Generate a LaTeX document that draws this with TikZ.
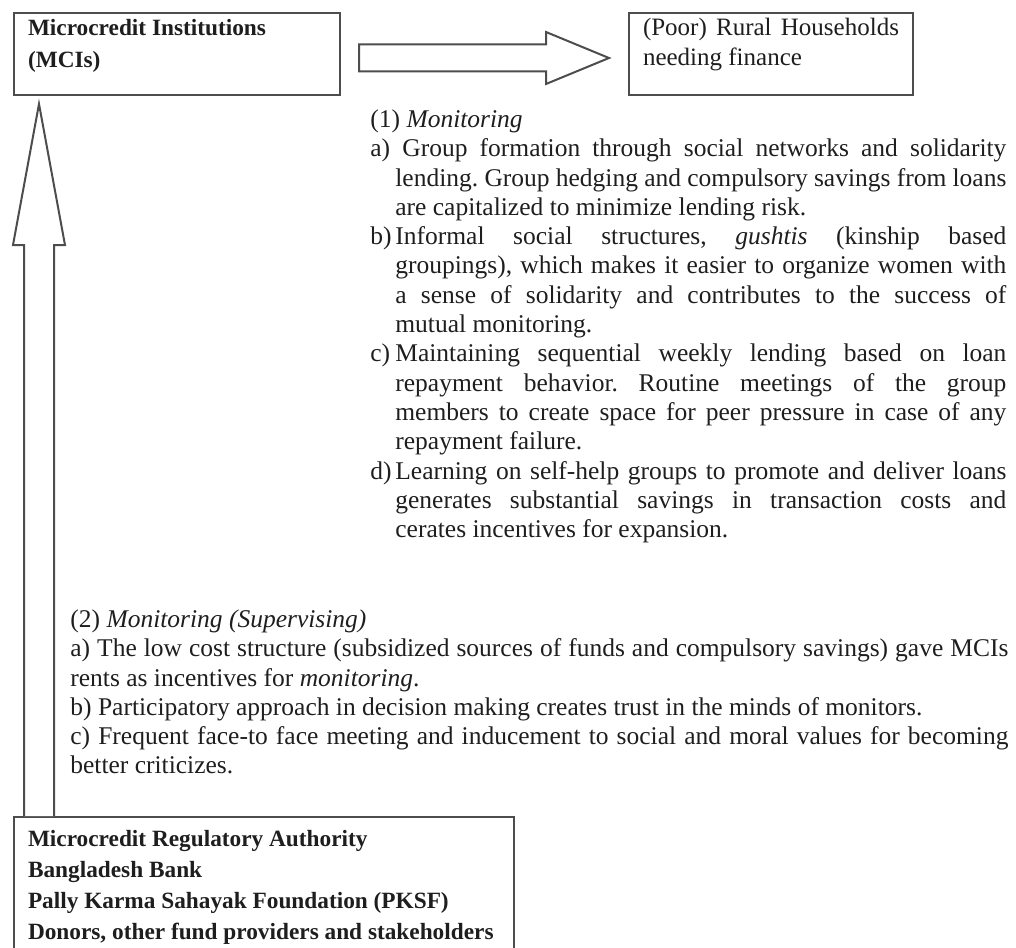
\documentclass[tikz,border=0pt]{standalone}
\usepackage{fontspec}
\setmainfont{Liberation Serif}
\usetikzlibrary{positioning,calc}
\definecolor{InkDark}{HTML}{1E1E1E}
\definecolor{LineGray}{HTML}{4D4D4D}
\frenchspacing
\newcommand{\cardtext}[4]{\parbox[t][#2][t]{#1}{\rule{0pt}{#3}#4}}
\newcommand{\hangitem}[1]{\par\hangindent=12.5pt\hangafter=1\makebox[12.5pt][l]{#1}}
\tikzset{
  card/.style={draw=LineGray, line width=1pt, fill=white, text=InkDark, inner xsep=7pt, inner ysep=0pt, anchor=north west},
  cardbold/.style={card, font=\fontsize{11.65}{16}\selectfont\bfseries},
  bodytext/.style={inner sep=0pt, anchor=north west, text=InkDark, font=\fontsize{12.75}{14.65}\selectfont},
  blockarrow/.style={draw=LineGray, line width=1pt, fill=white, line join=miter}
}
\begin{document}
\begin{tikzpicture}[x=0.5pt, y=-0.5pt]
  \useasboundingbox (0,0) rectangle (1016,947);
  \clip (0,0) rectangle (1016,947);
  % Boxes
  \node[cardbold] (mci) at (13,12)
    {\cardtext{149pt}{41pt}{11.5pt}{Microcredit Institutions\\(MCIs)}};
  \node[card, font=\fontsize{12.5}{15}\selectfont, right=143.5pt of mci] (hh)
    {\cardtext{128pt}{41pt}{11.5pt}{(Poor) Rural Households\linebreak needing finance}};
  \node[card, font=\fontsize{11.65}{15.5}\selectfont\bfseries, below=360pt of mci.south west, anchor=north west] (reg)
    {\cardtext{236pt}{90pt}{14.5pt}{Microcredit Regulatory Authority\\Bangladesh Bank\\Pally Karma Sahayak Foundation (PKSF)\\Donors, other fund providers and stakeholders}};

  % Text blocks
  \node[bodytext] (mon) at (370,107) {\parbox[t]{318pt}{\rule{0pt}{10pt}(1) \textit{Monitoring}
    \hangitem{a)}\hspace{3.5pt}Group formation through social networks and solidarity\linebreak lending. Group hedging and compulsory savings from loans\linebreak are capitalized to minimize lending risk.
    \hangitem{b)}Informal social structures, \textit{gushtis} (kinship based\linebreak groupings), which makes it easier to organize women with\linebreak a sense of solidarity and contributes to the success of\linebreak mutual monitoring.
    \hangitem{c)}Maintaining sequential weekly lending based on loan\linebreak repayment behavior. Routine meetings of the group\linebreak members to create space for peer pressure in case of any\linebreak repayment failure.
    \hangitem{d)}Learning on self-help groups to promote and deliver loans\linebreak generates substantial savings in transaction costs and\linebreak cerates incentives for expansion.}};

  \node[bodytext] (sup) at (70,607) {\parbox[t]{469pt}{\rule{0pt}{10pt}(2) \textit{Monitoring (Supervising)}\par
    a) The low cost structure (subsidized sources of funds and compulsory savings) gave MCIs\linebreak rents as incentives for \textit{monitoring}.\par
    b) Participatory approach in decision making creates trust in the minds of monitors.\par
    c) Frequent face-to face meeting and inducement to social and moral values for becoming\linebreak better criticizes.}};

  % Block arrows
  \coordinate (ra) at ($(mci.east)+(18,4)$);
  \coordinate (rb) at ($(hh.west)+(-19,4)$);
  \draw[blockarrow] ($(ra)+(0,-13.5)$) -- ($(rb)+(-63,-13.5)$) -- ($(rb)+(-63,-26)$) -- (rb)
    -- ($(rb)+(-63,26)$) -- ($(rb)+(-63,13.5)$) -- ($(ra)+(0,13.5)$) -- cycle;

  \coordinate (ua) at ($(reg.north west)+(26,0)$);
  \coordinate (ut) at ($(mci.south west)+(26,8)$);
  \draw[blockarrow] ($(ua)+(-15,0)$) -- ($(ut)+(-15,141)$) -- ($(ut)+(-26,141)$) -- (ut)
    -- ($(ut)+(26,141)$) -- ($(ut)+(15,141)$) -- ($(ua)+(15,0)$);
\end{tikzpicture}
\end{document}
